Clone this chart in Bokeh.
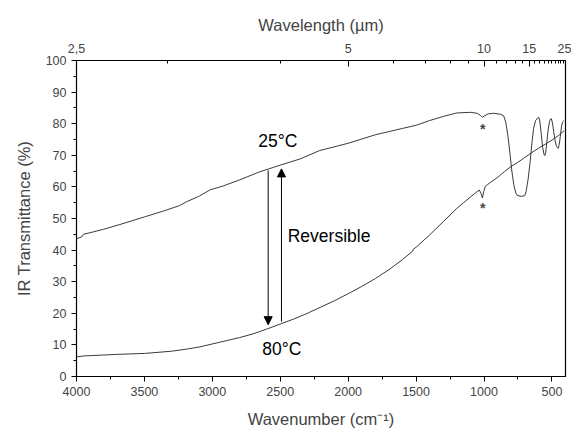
from bokeh.plotting import figure
from bokeh.models import (Range1d, LinearAxis, FixedTicker, SingleIntervalTicker,
                          CustomJSTickFormatter, Arrow, NormalHead, Label)
from bokeh.embed import file_html
from bokeh.resources import INLINE

# ---- data ----
wn_25 = [4000, 3960, 3950, 3900, 3800, 3680, 3500, 3350, 3240, 3190, 3100, 3020, 2920,
         2800, 2650, 2577, 2500, 2350, 2210, 2000, 1800, 1600, 1500, 1400, 1300, 1200,
         1100, 1050, 1025, 1012, 1000, 970, 930, 880, 855, 840, 825, 810, 795, 780, 765,
         755, 725, 700, 690, 675, 660, 647, 635, 620, 605, 596, 588, 578, 568, 558, 552,
         546, 538, 528, 518, 508, 503, 496, 487, 476, 466, 454, 446, 438, 430, 422, 410]
t_25 = [43.6, 44.2, 45.0, 45.5, 46.6, 48.1, 50.5, 52.5, 54.1, 55.3, 57.0, 59.0, 60.3,
        62.2, 64.8, 65.8, 66.9, 68.9, 71.5, 73.8, 76.5, 78.5, 79.5, 81.0, 82.3, 83.4,
        83.6, 83.3, 82.6, 82.0, 82.4, 83.1, 83.3, 83.0, 82.5, 80.5, 76.5, 71.0, 65.0, 60.5, 58.0,
        57.3, 57.0, 57.2, 58.5, 62.5, 68.0, 74.0, 78.5, 81.0, 81.8, 82.0, 80.5, 76.5, 72.5, 70.3, 69.9,
        70.8, 74.0, 78.0, 80.7, 81.6, 81.5, 80.2, 77.5, 74.5, 72.8, 72.2, 73.5, 76.0, 79.0, 80.5, 81.0]

wn_80 = [4000, 3950, 3900, 3800, 3700, 3500, 3300, 3200, 3100, 3000, 2900, 2800, 2700,
         2600, 2500, 2400, 2300, 2200, 2100, 2000, 1900, 1800, 1700, 1600, 1525, 1520,
         1500, 1400, 1300, 1200, 1150, 1100, 1060, 1035, 1022, 1012, 1002, 990, 975, 950,
         900, 850, 800, 750, 700, 650, 600, 550, 500, 450, 410]
t_80 = [6.2, 6.5, 6.6, 6.8, 7.0, 7.3, 8.0, 8.6, 9.3, 10.3, 11.3, 12.3, 13.5,
        15.0, 16.6, 18.2, 20.0, 22.0, 24.0, 26.2, 28.5, 31.0, 33.8, 37.0, 39.7, 40.3,
        40.9, 44.8, 49.0, 53.2, 55.0, 56.8, 58.2, 59.0, 58.0, 56.5, 58.5, 60.2, 60.7, 61.5,
        63.0, 64.8, 66.5, 67.8, 69.3, 70.8, 72.2, 73.5, 74.8, 76.3, 77.8]

top_ticks_um = [2.5, 5, 10, 15, 25]
top_labels = ["2,5", "5", "10", "15", "25"]
top_minor_um = [3, 4, 6, 7, 8, 9, 11, 12, 13, 14, 16, 17, 18, 19, 20, 21, 22, 23, 24]

arrow_down = (2589, 65.2, 16.4)
arrow_up = (2491, 17.4, 65.7)
texts = [("25°C", 2518, 74.6, "center"), ("80°C", 2489, 8.7, "center"),
         ("Reversible", 2445, 44.5, "left")]
stars = [(1010, 78.3), (1010, 53.3)]

FONT = "Liberation Sans"

p = figure(width=571, height=430, output_backend="svg", toolbar_location=None,
           x_range=Range1d(4000, 400), y_range=Range1d(0, 100),
           min_border_left=76, min_border_right=6, min_border_top=60, min_border_bottom=49)
p.grid.visible = False
p.outline_line_color = "black"
p.outline_line_width = 1.2
p.background_fill_color = "white"

# bottom axis
xa = p.xaxis[0]
xa.ticker = SingleIntervalTicker(interval=500, num_minor_ticks=2)
xa.axis_label = "Wavenumber (cm⁻¹)"
ya = p.yaxis[0]
ya.ticker = SingleIntervalTicker(interval=10, num_minor_ticks=2)
ya.axis_label = "IR Transmittance (%)"
for ax in (xa, ya):
    ax.axis_label_text_font = FONT
    ax.axis_label_text_font_style = "normal"
    ax.axis_label_text_font_size = "16.5px"
    ax.major_label_text_font = FONT
    ax.major_label_text_font_size = "12.5px"
    ax.axis_line_color = "black"
    ax.major_tick_line_color = "black"
    ax.minor_tick_line_color = "black"
    ax.major_tick_out = 5
    ax.major_tick_in = 0
    ax.minor_tick_out = 3
    ax.minor_tick_in = 0
xa.axis_label_standoff = 11
ya.axis_label_standoff = 10

# top axis (wavelength)
top_vals = [10000.0 / l for l in top_ticks_um]
top = LinearAxis(
    ticker=FixedTicker(ticks=top_vals,
                       minor_ticks=[10000.0 / l for l in top_minor_um]),
    formatter=CustomJSTickFormatter(
        args=dict(tvals=top_vals, tlabels=top_labels),
        code="for (let i = 0; i < tvals.length; i++) { if (Math.abs(tick - tvals[i]) < 0.5) return tlabels[i]; } return '';"),
    axis_label="Wavelength (µm)")
top.axis_label_text_font = FONT
top.axis_label_text_font_style = "normal"
top.axis_label_text_font_size = "16.5px"
top.major_label_text_font = FONT
top.major_label_text_font_size = "12.5px"
top.major_tick_in = 6
top.major_tick_out = 0
top.minor_tick_in = 3
top.minor_tick_out = 0
top.major_label_standoff = 8
top.axis_label_standoff = 7
p.add_layout(top, "above")

# curves
p.line(wn_25, t_25, line_color="#3a3a3a", line_width=1)
p.line(wn_80, t_80, line_color="#3a3a3a", line_width=1)

# arrows
for x0, y0, y1 in (arrow_down, arrow_up):
    p.add_layout(Arrow(x_start=x0, y_start=y0, x_end=x0, y_end=y1, line_color="black",
                       line_width=1,
                       end=NormalHead(size=8, fill_color="black", line_color="black")))

for txt, x, y, al in texts:
    p.add_layout(Label(x=x, y=y, text=txt, text_font=FONT, text_font_size="17.5px",
                       text_align=al, text_baseline="middle", text_color="black"))
for x, y in stars:
    p.add_layout(Label(x=x, y=y, text="*", text_font=FONT, text_font_size="14px",
                       text_font_style="bold", text_align="center", text_baseline="middle"))

open("out.html", "w").write(file_html(p, INLINE))
